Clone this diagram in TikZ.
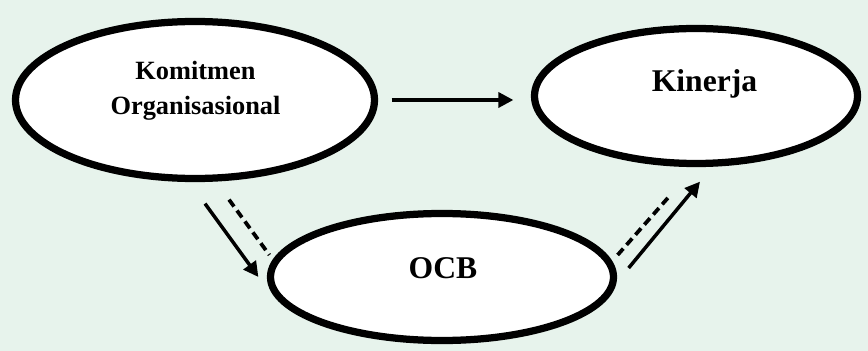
\documentclass[tikz,border=0pt]{standalone}
\usepackage{fontspec}
\setmainfont{Liberation Serif}
\usetikzlibrary{shapes.geometric,arrows.meta}
\definecolor{bgmint}{RGB}{231,243,236}
\begin{document}
\begin{tikzpicture}[
    oval/.style={ellipse,draw,fill=white,line width=0.145cm,inner sep=0pt},
    varname/.style={font=\bfseries\fontsize{18}{22}\selectfont,inner sep=0pt},
    link/.style={line width=0.07cm,-{Triangle[length=0.3cm,width=0.3cm]}},
    dashlink/.style={line width=0.075cm,dash pattern=on 0.17cm off 0.1cm}]
    \fill[bgmint] (0,0) rectangle (17.36,-7.02);
    \useasboundingbox (0,0) rectangle (17.36,-7.02);
    % the three variables
    \node[oval,minimum width=7.18cm,minimum height=3.14cm] (kom) at (3.9,-2) {};
    \node[oval,minimum width=6.46cm,minimum height=2.7cm] (kin) at (13.92,-1.92) {};
    \node[oval,minimum width=6.86cm,minimum height=2.54cm] (ocb) at (8.84,-5.54) {};
    \node[varname,font=\bfseries\fontsize{15}{20}\selectfont,align=center] (komtxt) at (3.91,-1.82) {Komitmen\\Organisasional};
    \node[varname,anchor=base] (kintxt) at (14.09,-1.84) {Kinerja};
    \node[varname,anchor=base] (ocbtxt) at (8.86,-5.56) {OCB};
    % direct path
    \draw[link,shorten <=0.27cm,shorten >=0.35cm] (kom.east) -- (kom.east -| kin.west);
    % paths through OCB
    \draw[link] ([xshift=0.2cm,yshift=-0.43cm]kom.south) -- ([xshift=-0.17cm]ocb.west);
    \draw[dashlink] ([xshift=0.68cm,yshift=-0.35cm]kom.south) -- ([xshift=0.05cm,yshift=0.44cm]ocb.west);
    \draw[link] ([xshift=0.23cm,yshift=0.18cm]ocb.east) -- ([xshift=0.08cm,yshift=-0.29cm]kin.south);
    \draw[dashlink] ([xshift=0.01cm,yshift=0.44cm]ocb.east) -- ([xshift=-0.54cm,yshift=-0.59cm]kin.south);
\end{tikzpicture}
\end{document}
